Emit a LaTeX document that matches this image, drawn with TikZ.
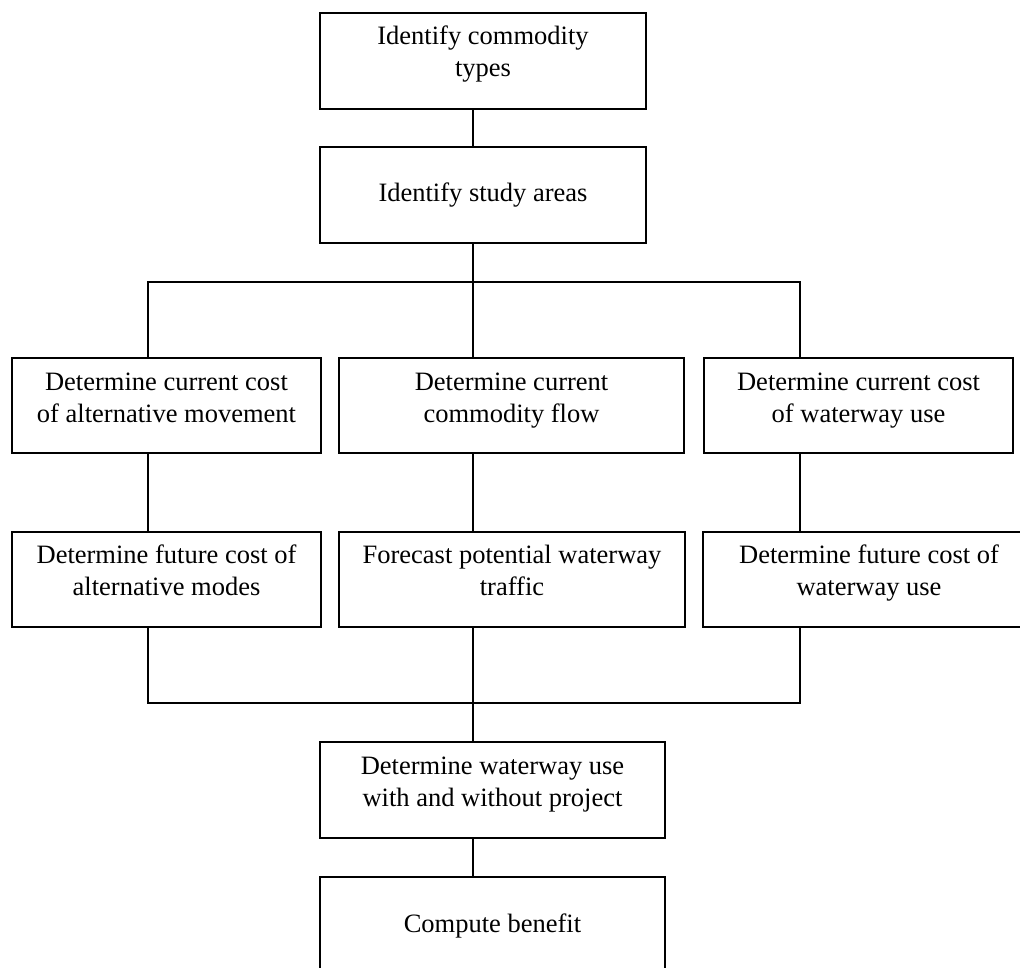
\documentclass[tikz,border=0pt]{standalone}
\usepackage{fontspec}
\setmainfont{Liberation Serif}
\begin{document}
\begin{tikzpicture}[x=1pt,y=-1pt,
  stepbox/.style={draw=black,line width=1.8pt,rectangle,inner sep=0pt,outer sep=0pt,minimum height=96pt},
  steptext/.style={align=center,inner sep=0pt,outer sep=0pt,font=\fontsize{26.5}{32}\selectfont},
  link/.style={draw=black,line width=1.4pt}]
\useasboundingbox (0,0) rectangle (1020,968);
\clip (0,0) rectangle (1020,968);
\fill[white] (0,0) rectangle (1020,968);
% boxes
\node[stepbox,minimum width=326pt] (b1) at (483,61) {};
\node[stepbox,minimum width=326pt] (b2) at (483,195) {};
\node[stepbox,minimum width=309pt,minimum height=95pt] (aL) at (166.5,405.5) {};
\node[stepbox,minimum width=345pt,minimum height=95pt] (aM) at (511.5,405.5) {};
\node[stepbox,minimum width=309pt,minimum height=95pt] (aR) at (858.5,405.5) {};
\node[stepbox,minimum width=309pt,minimum height=95pt] (cL) at (166.5,579.5) {};
\node[stepbox,minimum width=346pt,minimum height=95pt] (cM) at (512,579.5) {};
\node[stepbox,minimum width=332pt,minimum height=95pt] (cR) at (869,579.5) {};
\node[stepbox,minimum width=345pt] (b7) at (492.5,790) {};
\node[stepbox,minimum width=345pt] (b8) at (492.5,925) {};
% texts
\node[steptext] (t1) at (483,54.6) {\strut Identify commodity\\types\strut};
\node[steptext] (t2) at (483,195.6) {\strut Identify study areas\strut};
\node[steptext] (taL) at (166.5,399.6) {\strut Determine current cost\\of alternative movement\strut};
\node[steptext] (taM) at (511.5,399.6) {\strut Determine current\\commodity flow\strut};
\node[steptext] (taR) at (858.5,399.6) {\strut Determine current cost\\of waterway use\strut};
\node[steptext] (tcL) at (166.5,572.6) {\strut Determine future cost of\\alternative modes\strut};
\node[steptext] (tcM) at (512,572.6) {\strut Forecast potential waterway\\traffic\strut};
\node[steptext] (tcR) at (869,572.6) {\strut Determine future cost of\\waterway use\strut};
\node[steptext] (t7) at (492.5,783.6) {\strut Determine waterway use\\with and without project\strut};
\node[steptext] (t8) at (492.5,925.6) {\strut Compute benefit\strut};
% connector columns and buses
\coordinate (cx) at (473,0);
\coordinate (lx) at (148,0);
\coordinate (rx) at (800,0);
\coordinate (bus1) at (0,282);
\coordinate (bus2) at (0,703);
\draw[link] (cx |- b1.south) -- (cx |- b2.north);
\draw[link] (cx |- b2.south) -- (cx |- aM.north);
\draw[link] (lx |- aL.north) -- (lx |- bus1) -- (rx |- bus1) -- (rx |- aR.north);
\draw[link] (lx |- aL.south) -- (lx |- cL.north);
\draw[link] (cx |- aM.south) -- (cx |- cM.north);
\draw[link] (rx |- aR.south) -- (rx |- cR.north);
\draw[link] (lx |- cL.south) -- (lx |- bus2) -- (rx |- bus2) -- (rx |- cR.south);
\draw[link] (cx |- cM.south) -- (cx |- b7.north);
\draw[link] (cx |- b7.south) -- (cx |- b8.north);
\end{tikzpicture}
\end{document}
